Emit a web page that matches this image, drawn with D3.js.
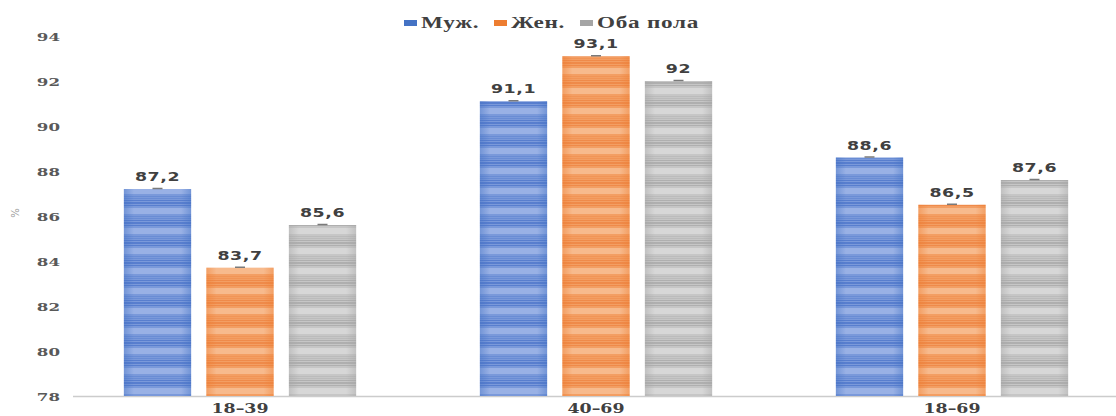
<!DOCTYPE html>
<html><head><meta charset="utf-8">
<script src="https://cdn.jsdelivr.net/npm/d3@7"></script>
<style>body{margin:0;background:#fff}svg{display:block}</style>
</head><body><svg id="c" width="1116" height="416"></svg>
<script>
const categories = ["18–39", "40–69", "18–69"];
const seriesNames = ["Муж.", "Жен.", "Оба пола"];
const male = [87.2, 91.1, 88.6];
const female = [83.7, 93.1, 86.5];
const both = [85.6, 92, 87.6];
const labels = [["87,2","91,1","88,6"],["83,7","93,1","86,5"],["85,6","92","87,6"]];
const yTicks = [78, 80, 82, 84, 86, 88, 90, 92, 94];

const seriesValues = [male, female, both];
const palette = [
  {mid:"#7a99da", dark:"#5077ca", light:"#a3b9e8", base:"#4472c4"},
  {mid:"#f39e63", dark:"#ee8443", light:"#f8c29b", base:"#ed7d31"},
  {mid:"#c6c6c6", dark:"#a9a9a9", light:"#dcdcdc", base:"#a5a5a5"}
];
const SX = 1.45;

const svg = d3.select("#c");
const defs = svg.append("defs");
palette.forEach((p, i) => {
  const pat = defs.append("pattern").attr("id", "pat" + i)
    .attr("patternUnits", "userSpaceOnUse").attr("width", 4).attr("height", 20);
  pat.append("rect").attr("width", 4).attr("height", 20).attr("fill", p.mid);
  [0, 2, 3, 5].forEach(y => pat.append("rect").attr("y", y).attr("width", 4).attr("height", 1).attr("fill", p.dark).attr("opacity", 0.8));
  [8, 9, 10, 11, 12, 13].forEach(y => pat.append("rect").attr("y", y).attr("width", 4).attr("height", 1).attr("fill", p.light).attr("opacity", 0.75));
  [16, 18].forEach(y => pat.append("rect").attr("y", y).attr("width", 4).attr("height", 1).attr("fill", p.dark).attr("opacity", 0.4));
  const g = defs.append("linearGradient").attr("id", "grad" + i).attr("x1", "0").attr("x2", "1").attr("y1", "0").attr("y2", "0");
  g.append("stop").attr("offset", "0%").attr("stop-color", p.base).attr("stop-opacity", 0.45);
  g.append("stop").attr("offset", "15%").attr("stop-color", p.base).attr("stop-opacity", 0);
  g.append("stop").attr("offset", "85%").attr("stop-color", p.base).attr("stop-opacity", 0);
  g.append("stop").attr("offset", "100%").attr("stop-color", p.base).attr("stop-opacity", 0.45);
});

const y = d3.scaleLinear().domain([78, 94]).range([396, 36]);
const x0 = d3.scaleBand().domain(categories).range([62, 1130]).paddingInner(0).paddingOuter(0);
const x1 = d3.scaleBand().domain(d3.range(3)).range([0, x0.bandwidth()]).paddingInner(0.185).paddingOuter(0.75);

// axis line
svg.append("line").attr("x1", 73).attr("x2", 1116).attr("y1", y(78) + 0.5).attr("y2", y(78) + 0.5)
  .attr("stroke", "#cccccc").attr("stroke-width", 1.5);

function stext(sel, x, yy, anchor) {
  return sel.append("text").attr("transform", `translate(${x},${yy}) scale(${SX},1)`).attr("text-anchor", anchor);
}

// y tick labels
const yAxis = d3.axisLeft(y).tickValues(yTicks).tickSize(0).tickPadding(0);
const ya = svg.append("g").attr("transform", "translate(60,0)").call(yAxis);
ya.select(".domain").remove();
ya.selectAll(".tick text").attr("x", null).attr("dy", "0.35em")
  .attr("transform", `scale(${SX},1)`)
  .attr("fill", "#595959").attr("font-family", "'DejaVu Serif', serif").attr("font-weight", "bold").attr("font-size", 11.5);

// % label
svg.append("text").attr("transform", "translate(19,213) rotate(-90)").attr("text-anchor", "middle")
  .attr("font-family", "'DejaVu Sans', sans-serif").attr("font-size", 10).attr("fill", "#9a9a9a").text("%");

// bars
seriesValues.forEach((vals, si) => {
  categories.forEach((c, ci) => {
    const bx = x0(c) + x1(si), bw = x1.bandwidth(), by = y(vals[ci]), bh = y(78) - by;
    svg.append("rect").attr("x", bx).attr("y", by).attr("width", bw).attr("height", bh).attr("fill", `url(#pat${si})`);
    svg.append("rect").attr("x", bx).attr("y", by).attr("width", bw).attr("height", bh).attr("fill", `url(#grad${si})`);
    svg.append("line").attr("x1", bx + bw / 2 - 5).attr("x2", bx + bw / 2 + 5).attr("y1", by - 0.5).attr("y2", by - 0.5)
      .attr("stroke", "#7a7a7a").attr("stroke-width", 1.5);
    stext(svg, bx + bw / 2, by - 8, "middle").attr("font-family", "'DejaVu Sans', sans-serif").attr("font-weight", "bold")
      .attr("font-size", 12).attr("fill", "#404040").attr("letter-spacing", 0.4).text(labels[si][ci]);
  });
});

// x labels
categories.forEach(c => {
  stext(svg, x0(c) + x0.bandwidth() / 2, 413, "middle").attr("font-family", "'DejaVu Serif', serif").attr("font-weight", "bold")
    .attr("font-size", 12).attr("fill", "#404040").text(c);
});

// legend
const legX = [404, 494, 580];
seriesNames.forEach((n, i) => {
  svg.append("rect").attr("x", legX[i]).attr("y", 20).attr("width", 13).attr("height", 6).attr("fill", palette[i].base);
  stext(svg, legX[i] + 17, 28, "start").attr("font-family", "'Liberation Serif', serif").attr("font-weight", "bold")
    .attr("font-size", 16).attr("fill", "#404040").attr("letter-spacing", 0.5).text(n);
});
</script></body></html>
